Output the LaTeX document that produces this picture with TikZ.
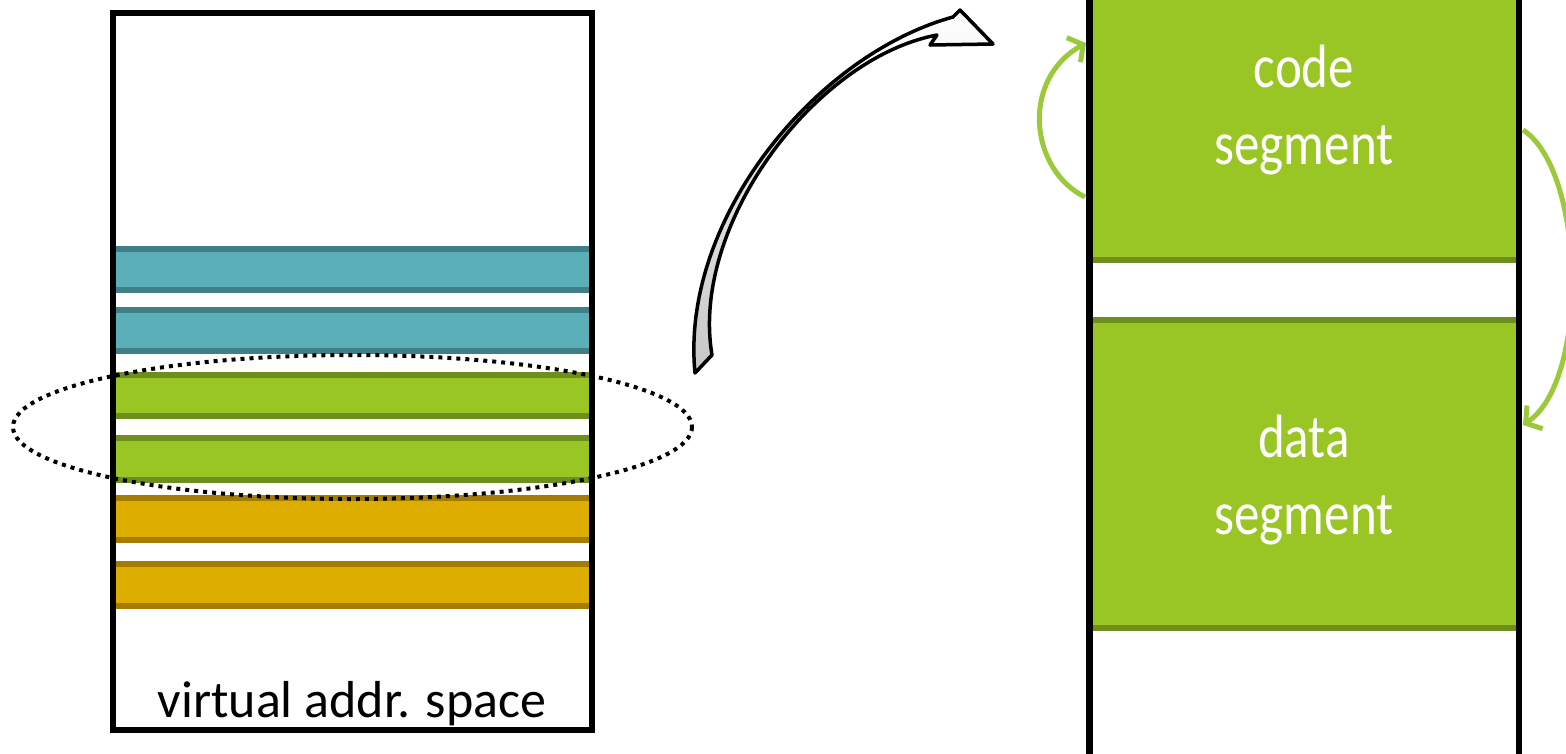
\documentclass[tikz,border=0pt]{standalone}
\usepackage{fontspec}
\setmainfont{Carlito}
\usetikzlibrary{arrows.meta}
\definecolor{lime}{RGB}{153,198,36}
\definecolor{limedark}{RGB}{110,142,30}
\definecolor{tealf}{RGB}{90,175,184}
\definecolor{teald}{RGB}{63,127,135}
\definecolor{ochre}{RGB}{221,173,0}
\definecolor{ochred}{RGB}{166,124,0}
\definecolor{arrowgreen}{RGB}{155,201,58}
\begin{document}
\begin{tikzpicture}[x=1pt,y=-1pt,
  band/.style={line width=6pt},
  frame/.style={line width=6pt, draw=black},
  lbl/.style={font=\fontsize{52}{60}\selectfont, anchor=base, inner sep=0pt},
  seglbl/.style={font=\fontsize{51}{60}\selectfont, text=white, anchor=base, inner sep=0pt},
  loopar/.style={draw=arrowgreen, line width=5pt, -{Straight Barb[length=11pt,width=28pt,line width=5pt]}},
  blockar/.style={line width=3.5pt, line join=round, draw=black, top color=white, bottom color=gray!45}
  ]
\useasboundingbox (0,0) rectangle (1566,753);
\fill[white] (0,0) rectangle (1566,753);
% bands in the virtual address space
\draw[band, fill=tealf, draw=teald] (113,249) rectangle (592,290);
\draw[band, fill=tealf, draw=teald] (113,310) rectangle (592,351);
\draw[band, fill=lime, draw=limedark] (113,375) rectangle (592,416);
\draw[band, fill=lime, draw=limedark] (113,438) rectangle (592,480);
\draw[band, fill=ochre, draw=ochred] (113,498) rectangle (592,540);
\draw[band, fill=ochre, draw=ochred] (113,564) rectangle (592,606);
% dotted ellipse
\draw[line width=4pt, dash pattern=on 4pt off 5pt] (352.5,427) ellipse [x radius=339.5, y radius=72];
% left frame
\draw[frame] (113,13) rectangle (592,730);
\node[lbl] (vas) at (352,717) {virtual addr. space};
% right column
\draw[band, fill=lime, draw=limedark] (1089,-20) rectangle (1519,260);
\draw[band, fill=lime, draw=limedark] (1089,320) rectangle (1519,628);
\draw[line width=7pt] (1089,-20) -- (1089,773);
\draw[line width=6pt] (1519,-20) -- (1519,773);
\node[seglbl] (code1) at (1304,87) {\scalebox{1}[1.2]{code}};
\node[seglbl] (code2) at (1304,164) {\scalebox{1}[1.2]{segment}};
\node[seglbl] (data1) at (1304,457) {\scalebox{1}[1.2]{data}};
\node[seglbl] (data2) at (1304,534) {\scalebox{1}[1.2]{segment}};
% green loop arrows
\coordinate (la) at (1085,197);
\coordinate (lb) at (1086,43);
\draw[loopar] (la) .. controls (1030,170) and (1020,80) .. (lb);
\coordinate (ra) at (1523,130);
\coordinate (rb) at (1523,425);
\draw[loopar] (ra) .. controls (1585,170) and (1590,380) .. (rb);
% curved block arrow
\draw[blockar] (695,373) .. controls (680,220) and (815,55) .. (953,17) -- (960,10) -- (993,44) -- (930,45) -- (937,35) .. controls (815,58) and (690,225) .. (712,355) -- cycle;
\end{tikzpicture}
\end{document}
